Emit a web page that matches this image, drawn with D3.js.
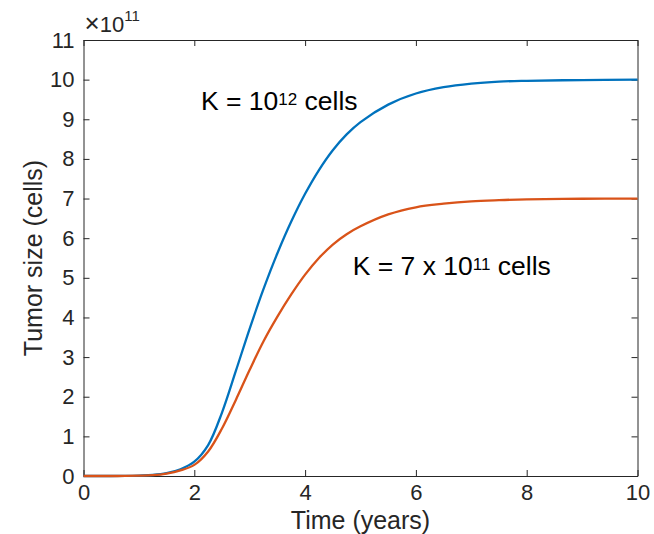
<!DOCTYPE html>
<meta charset="utf-8">
<style>
    body {
        margin: 0;
        background: #fff;
        font-family: "Liberation Sans", Arial, Helvetica, sans-serif;
    }

    .axis text {
        font-family: "Liberation Sans", Arial, sans-serif;
        font-size: 22px;
        fill: #262626;
    }

    .axis path,
    .axis line {
        stroke: #262626;
        stroke-width: 1px;
    }

    .curve {
        fill: none;
        stroke-width: 2.3px;
    }

    .note {
        font-size: 26.5px;
        fill: #000;
    }

    .title {
        font-size: 25px;
        fill: #262626;
    }
</style>

<body>
    <script src="https://d3js.org/d3.v7.min.js"></script>
    <script>
        // time (years)
        var times = [0, 0.25, 0.5, 0.75, 1, 1.25, 1.5, 1.75, 2, 2.25, 2.5, 2.75, 3, 3.25, 3.5, 3.75,
            4, 4.25, 4.5, 4.75, 5, 5.5, 6, 6.5, 7, 7.5, 8, 9, 10];
        // tumor size, in units of 1e11 cells, K = 1e12
        var bigK = [0, 0, 0, 0.002, 0.01, 0.025, 0.07, 0.17, 0.36, 0.78, 1.6, 2.65, 3.72, 4.72, 5.62, 6.42,
            7.12, 7.72, 8.22, 8.62, 8.93, 9.37, 9.65, 9.81, 9.9, 9.95, 9.97, 9.99, 10.0];
        // tumor size, K = 7e11
        var smallK = [0, 0, 0, 0.002, 0.008, 0.02, 0.06, 0.14, 0.28, 0.62, 1.2, 1.92, 2.68, 3.4, 4.02, 4.58,
            5.08, 5.5, 5.84, 6.1, 6.3, 6.6, 6.78, 6.87, 6.93, 6.96, 6.98, 6.995, 7.0];
        var xTicks = [0, 2, 4, 6, 8, 10];
        var yTicks = d3.range(0, 12);

        var W = 654, H = 534;
        var margin = { top: 40, right: 16.5, bottom: 58, left: 83.5 },
            width = W - margin.left - margin.right,
            height = H - margin.top - margin.bottom;

        var x = d3.scaleLinear().domain([0, 10]).range([0, width]);
        var y = d3.scaleLinear().domain([0, 11]).range([height, 0]);

        var svg = d3.select("body").append("svg")
            .attr("width", W)
            .attr("height", H)
            .append("g")
            .attr("transform", "translate(" + margin.left + "," + margin.top + ")");

        // axes, ticks point inward like matlab
        svg.append("g").attr("class", "axis")
            .attr("transform", "translate(0," + height + ")")
            .call(d3.axisBottom(x).tickValues(xTicks).tickSizeInner(-6).tickSizeOuter(0).tickPadding(8));
        svg.append("g").attr("class", "axis")
            .call(d3.axisTop(x).tickValues(xTicks).tickSizeInner(-6).tickSizeOuter(0).tickFormat(""));
        svg.append("g").attr("class", "axis")
            .call(d3.axisLeft(y).tickValues(yTicks).tickSizeInner(-6).tickSizeOuter(0).tickPadding(9));
        svg.append("g").attr("class", "axis")
            .attr("transform", "translate(" + width + ",0)")
            .call(d3.axisRight(y).tickValues(yTicks).tickSizeInner(-6).tickSizeOuter(0).tickFormat(""));

        var line = d3.line()
            .x(function (d, i) { return x(times[i]); })
            .y(function (d) { return y(d); })
            .curve(d3.curveCatmullRom.alpha(0.5));

        svg.append("path").attr("class", "curve")
            .attr("stroke", "#0072BD")
            .attr("d", line(bigK));
        svg.append("path").attr("class", "curve")
            .attr("stroke", "#D95319")
            .attr("d", line(smallK));

        // exponent above the y axis
        var ex = svg.append("text")
            .attr("x", 1).attr("y", -8)
            .style("font-family", "'Liberation Sans', Arial, sans-serif")
            .style("font-size", "22px").style("fill", "#262626");
        ex.append("tspan").style("font-size", "26px").text("\u00d7");
        ex.append("tspan").text("10");
        ex.append("tspan").attr("dy", -11).style("font-size", "15px").text("11");

        // annotations
        function note(tx, ty, pre, sup, post) {
            var t = svg.append("text").attr("class", "note")
                .attr("x", x(tx)).attr("y", y(ty));
            t.append("tspan").text(pre);
            t.append("tspan").attr("dy", -5).style("font-size", "17px").text(sup);
            t.append("tspan").attr("dy", 5).text(post);
        }
        note(2.12, 9.23, "K = 10", "12", " cells");
        note(4.86, 5.07, "K = 7 x 10", "11", " cells");

        // axis titles
        svg.append("text").attr("class", "title")
            .attr("x", width / 2).attr("y", height + 53)
            .attr("text-anchor", "middle")
            .text("Time (years)");
        svg.append("text").attr("class", "title")
            .attr("transform", "translate(" + (-42) + "," + (height / 2) + ") rotate(-90)")
            .attr("text-anchor", "middle")
            .text("Tumor size (cells)");
    </script>
</body>
